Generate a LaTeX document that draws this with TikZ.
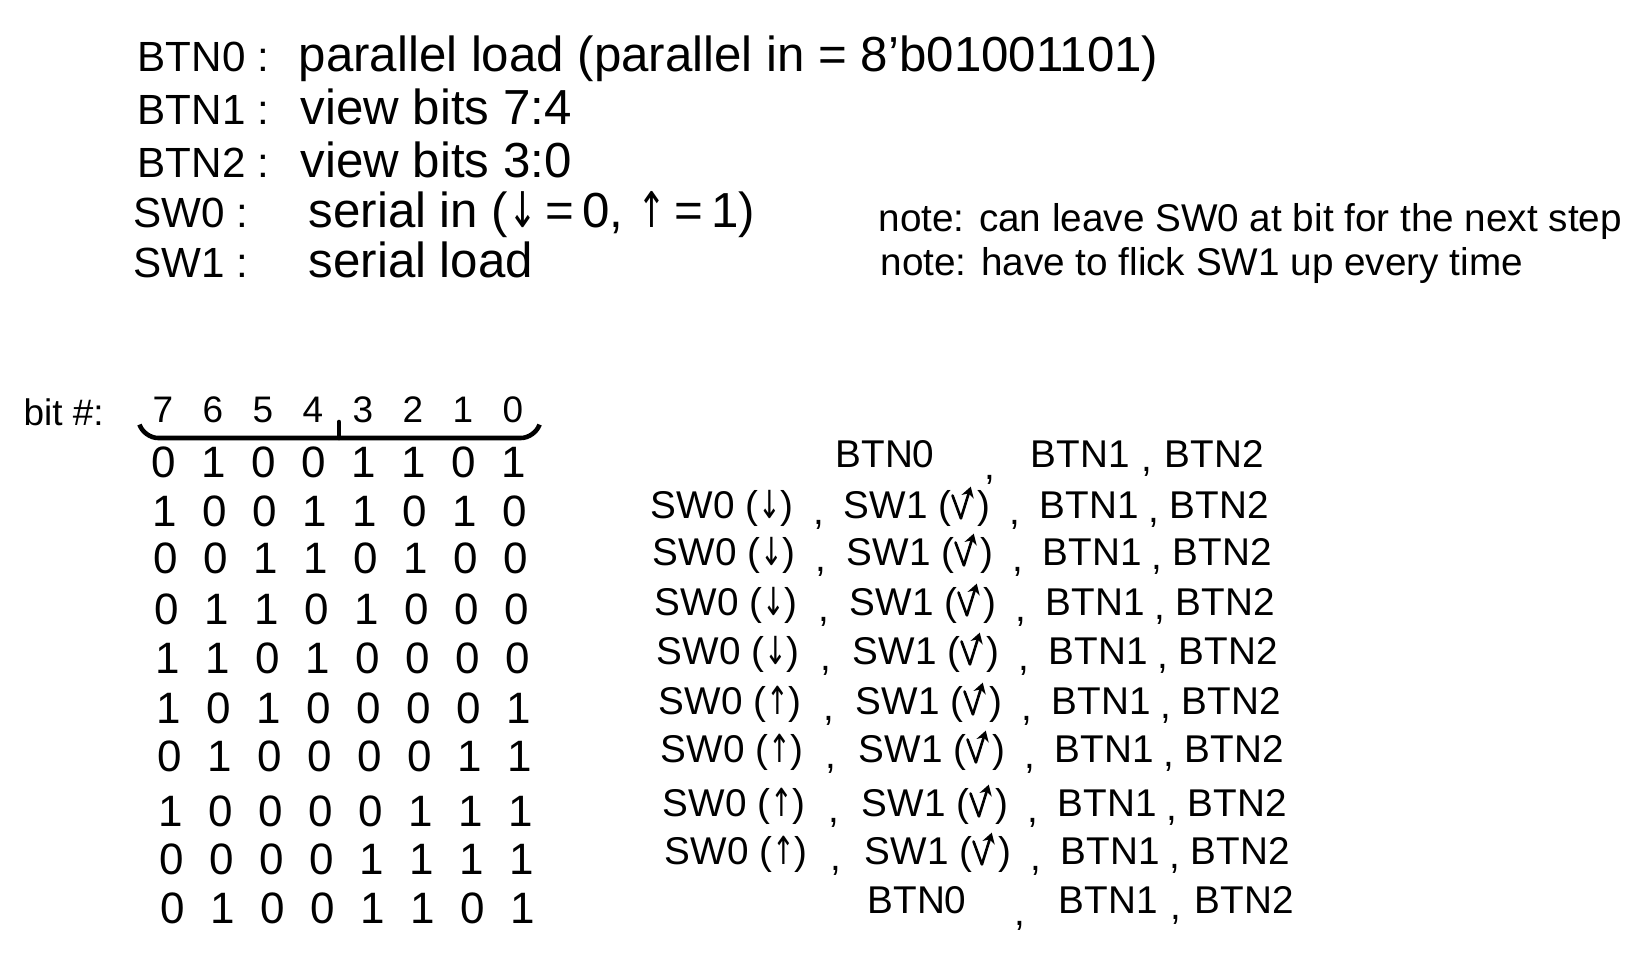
\documentclass[tikz,border=0pt]{standalone}
\usepackage{fontspec}
\usepackage{graphicx}
\setmainfont{Liberation Sans}
\newfontfamily\arrowfont{DejaVu Sans}
\usepackage{tikz}
\usetikzlibrary{arrows.meta, calc}
\tikzset{
  hand/.style={font=\fontsize{11}{13}\selectfont, inner sep=0pt},
  keyhand/.style={font=\fontsize{12}{14}\selectfont, inner sep=0pt},
  deschand/.style={font=\fontsize{14}{16}\selectfont, inner sep=0pt},
  notehand/.style={font=\fontsize{11}{13}\selectfont, inner sep=0pt},
  bitdigit/.style={font=\fontsize{12.5}{14}\selectfont, inner sep=0pt},
  bitlabel/.style={font=\fontsize{10.5}{12}\selectfont, inner sep=0pt},
}
\newcommand{\arrdn}{{\arrowfont\scalebox{0.7}[1]{↓}}}
\newcommand{\arrup}{{\arrowfont\scalebox{0.7}[1]{↑}}}
\newcommand{\flickup}{\tikz[baseline=0pt, x=1pt, y=1pt, line width=0.75pt, line cap=round]{\draw (0,6.5) -- (2.4,0); \draw[-{Stealth[length=3pt,width=3.6pt]}] (2.4,0) -- (5.2,9);}\kern1.2pt}

\begin{document}
\begin{tikzpicture}[x=0.01cm, y=-0.01cm]
  \useasboundingbox (0,0) rectangle (1652,955);

  % what each button and switch does
  \node[keyhand, anchor=mid west] (keyA) at (137,62) {BTN0 :};
  \node[deschand, anchor=mid west] (descA) at (298,62) {parallel load (parallel in = 8'b01001101)};
  \node[keyhand, anchor=mid west] (keyB) at (137,115) {BTN1 :};
  \node[deschand, anchor=mid west] (descB) at (300,115) {view bits 7:4};
  \node[keyhand, anchor=mid west] (keyC) at (137,168) {BTN2 :};
  \node[deschand, anchor=mid west] (descC) at (300,168) {view bits 3:0};
  \node[keyhand, anchor=mid west] (keyD) at (133,218) {SW0 :};
  \node[deschand, anchor=mid west] (descD) at (308,218) {serial in (\arrdn\,=\,0, \arrup\,=\,1)};
  \node[keyhand, anchor=mid west] (keyE) at (133,268) {SW1 :};
  \node[deschand, anchor=mid west] (descE) at (308,268) {serial load};

  \node[notehand, anchor=mid west] (noteA) at (878,222) {note: can leave SW0 at bit for the next step};
  \node[notehand, anchor=mid west] (noteB) at (880,266) {note: have to flick SW1 up every time};

  % bit numbers
  \node[bitlabel, anchor=mid west] (bitno) at (23,416) {bit \#:};
  \foreach \n [count=\c] in {7,6,5,4,3,2,1,0}
    \node[bitlabel] (hd\c) at ({163+(\c-1)*50}, 410) {\n};
  \draw[line width=1.3pt, line cap=round, rounded corners=4pt]
    (140,426) -- (144,438) -- (535,438) -- (539,426);
  \draw[line width=1.3pt, line cap=round] (339,438) -- (339,422);

  % register contents after each step
  \foreach \y/\bits [count=\r] in {
      462/{0,1,0,0,1,1,0,1}, 511/{1,0,0,1,1,0,1,0}, 558/{0,0,1,1,0,1,0,0},
      609/{0,1,1,0,1,0,0,0}, 658/{1,1,0,1,0,0,0,0}, 708/{1,0,1,0,0,0,0,1},
      756/{0,1,0,0,0,0,1,1}, 811/{1,0,0,0,0,1,1,1}, 859/{0,0,0,0,1,1,1,1},
      908/{0,1,0,0,1,1,0,1}}
    \foreach \b [count=\c] in \bits
      \node[bitdigit] (bit\r-\c) at ({163+(\c-1)*50+\r}, \y) {\b};

  % button presses
  \node[hand, anchor=mid] (pressA) at (885,458) {BTN0};
  \node[hand, anchor=mid west] (vhA) at (1030,458) {BTN1};
  \node[hand, anchor=mid west] (vlA) at (1164,458) {BTN2};
  \node[hand, anchor=mid] (cmA) at (990,470) {,};
  \node[hand, anchor=mid] (cmB) at ($(vhA.mid east)!0.5!(vlA.mid west)+(0,4)$) {,};

  \foreach \y/\a [count=\r] in {509/\arrdn, 556/\arrdn, 606/\arrdn, 655/\arrdn,
      705/\arrup, 753/\arrup, 807/\arrup, 855/\arrup} {
    \node[hand, anchor=mid west] (sin\r) at ({648+\r*2}, \y) {SW0 (\a)};
    \node[hand, anchor=mid west] (sld\r) at ({840+\r*3}, \y) {SW1 (\flickup)};
    \node[hand, anchor=mid west] (vh\r) at ({1036+\r*3}, \y) {BTN1};
    \node[hand, anchor=mid west] (vl\r) at ({1166+\r*3}, \y) {BTN2};
    \node[hand, anchor=mid] (cmC\r) at ($(sin\r.mid east)!0.5!(sld\r.mid west)+(0,6)$) {,};
    \node[hand, anchor=mid] (cmD\r) at ($(sld\r.mid east)!0.5!(vh\r.mid west)+(0,6)$) {,};
    \node[hand, anchor=mid] (cmE\r) at ($(vh\r.mid east)!0.5!(vl\r.mid west)+(0,4)$) {,};
  }

  \node[hand, anchor=mid] (pressB) at (917,904) {BTN0};
  \node[hand, anchor=mid west] (vhB) at (1058,904) {BTN1};
  \node[hand, anchor=mid west] (vlB) at (1194,904) {BTN2};
  \node[hand, anchor=mid] (cmF) at (1020,916) {,};
  \node[hand, anchor=mid] (cmG) at ($(vhB.mid east)!0.5!(vlB.mid west)+(0,6)$) {,};
\end{tikzpicture}
\end{document}
